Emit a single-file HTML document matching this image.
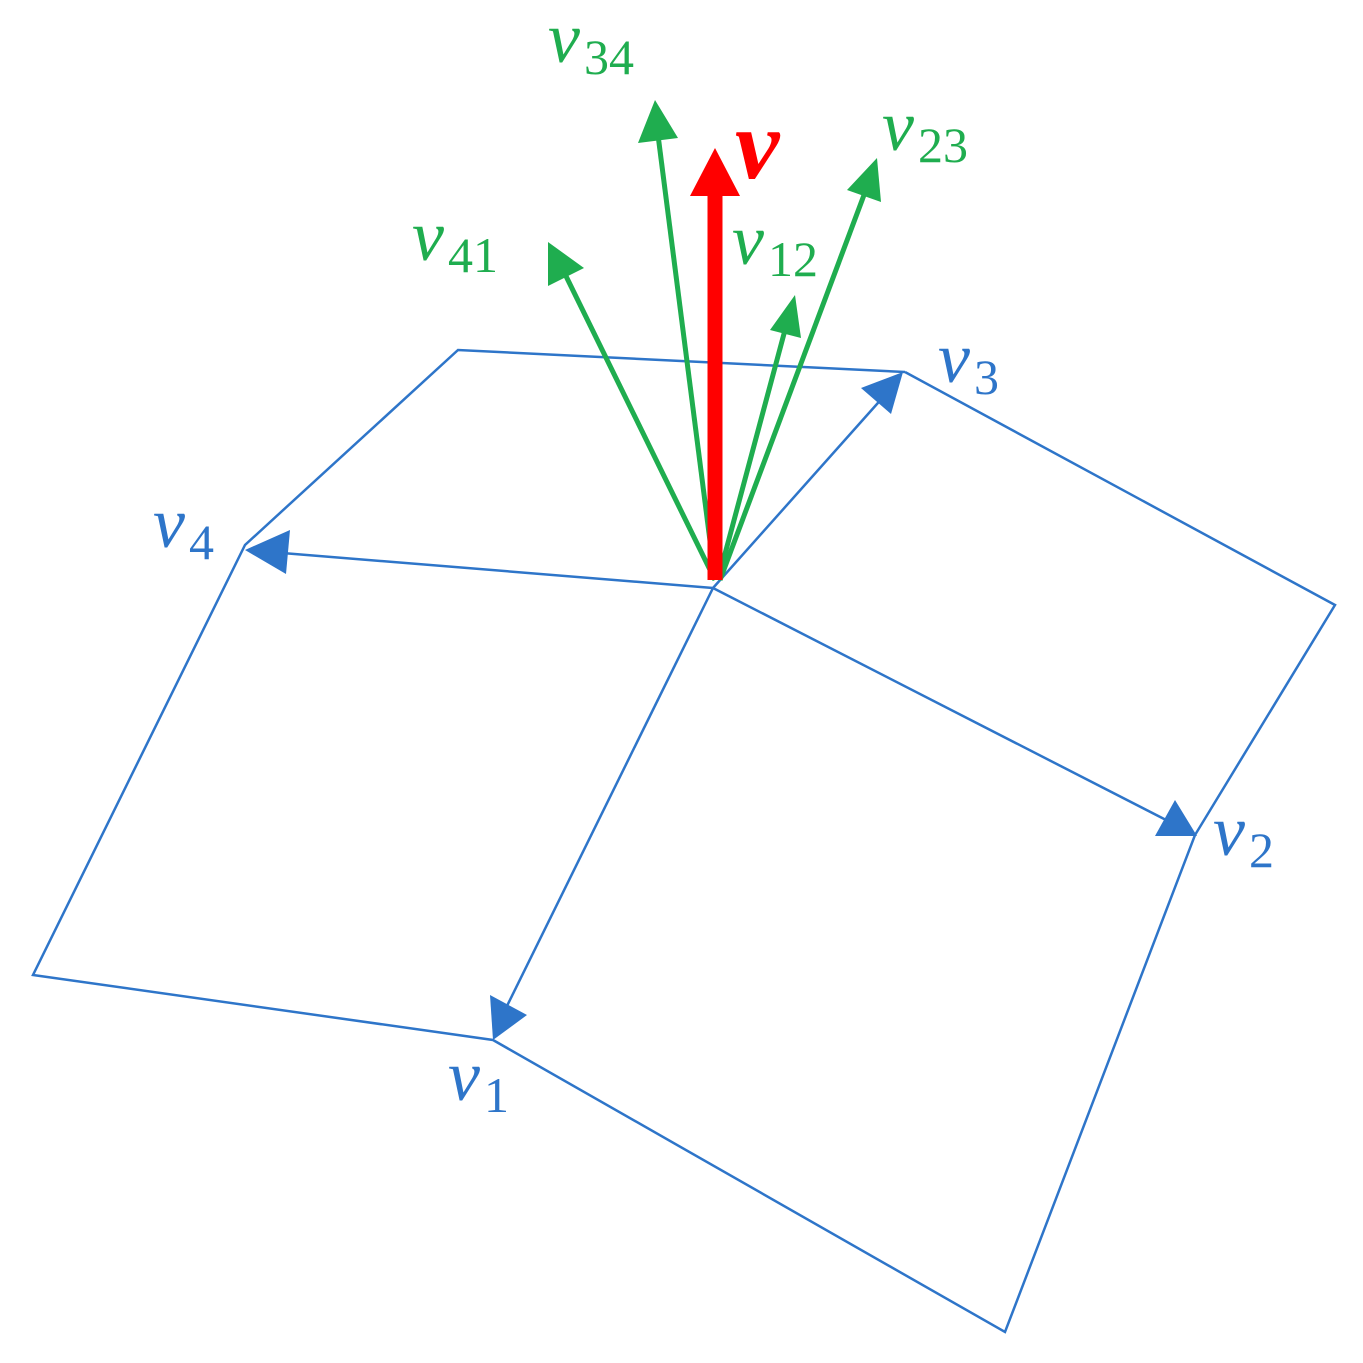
<!DOCTYPE html>
<html><head><meta charset="utf-8"><style>
html,body{margin:0;padding:0;background:#fff;}
svg{display:block}
text{font-family:"Liberation Serif",serif;font-style:italic;}
.s{font-style:normal;font-family:"Liberation Serif",serif}
</style></head><body>
<svg width="1363" height="1363" viewBox="0 0 1363 1363" xmlns="http://www.w3.org/2000/svg">
<g stroke="#2e75c9" stroke-width="2.5" fill="none">
<polyline points="905,372 458,350 245,545 33,975 493,1040 1005,1332 1195,835 1335,605 905,372"/>
<line x1="713" y1="588" x2="270" y2="552"/>
<line x1="713" y1="588" x2="505" y2="1010"/>
<line x1="713" y1="588" x2="1170" y2="822"/>
<line x1="713" y1="588" x2="885" y2="395"/>
</g>
<g fill="#2e75c9">
<polygon points="245,550 290,530 286,574"/>
<polygon points="493,1040 490,995 527,1015"/>
<polygon points="1197,836 1155,836 1175,800"/>
<polygon points="903,372 891,414 861,388"/>
</g>
<g stroke="#1fad4f" stroke-width="5" fill="none">
<line x1="715" y1="580" x2="563" y2="270"/>
<line x1="715" y1="580" x2="658" y2="135"/>
<line x1="718" y1="580" x2="785" y2="330"/>
<line x1="720" y1="580" x2="864" y2="195"/>
</g>
<g fill="#1fad4f">
<polygon points="548,242 584,268 548,286"/>
<polygon points="655,100 678,138 638,143"/>
<polygon points="795,295 801,338 770,330"/>
<polygon points="877,158 881,202 847,190"/>
</g>
<line x1="715" y1="580" x2="715" y2="190" stroke="#ff0000" stroke-width="15"/>
<polygon points="715,148 740,196 690,196" fill="#ff0000"/>
<g font-size="72">
<text x="548" y="62" fill="#1fad4f">v<tspan class="s" font-size="50" dy="12" dx="4">34</tspan></text>
<text x="882" y="150" fill="#1fad4f">v<tspan class="s" font-size="50" dy="12" dx="4">23</tspan></text>
<text x="412" y="260" fill="#1fad4f">v<tspan class="s" font-size="50" dy="12" dx="4">41</tspan></text>
<text x="732" y="264" fill="#1fad4f">v<tspan class="s" font-size="50" dy="12" dx="4">12</tspan></text>
<text x="735" y="178" fill="#ff0000" font-size="100" font-weight="bold">v</text>
<text x="938" y="382" fill="#2e75c9">v<tspan class="s" font-size="50" dy="12" dx="4">3</tspan></text>
<text x="153" y="547" fill="#2e75c9">v<tspan class="s" font-size="50" dy="12" dx="4">4</tspan></text>
<text x="1213" y="855" fill="#2e75c9">v<tspan class="s" font-size="50" dy="12" dx="4">2</tspan></text>
<text x="448" y="1100" fill="#2e75c9">v<tspan class="s" font-size="50" dy="12" dx="4">1</tspan></text>
</g>
</svg>
</body></html>
